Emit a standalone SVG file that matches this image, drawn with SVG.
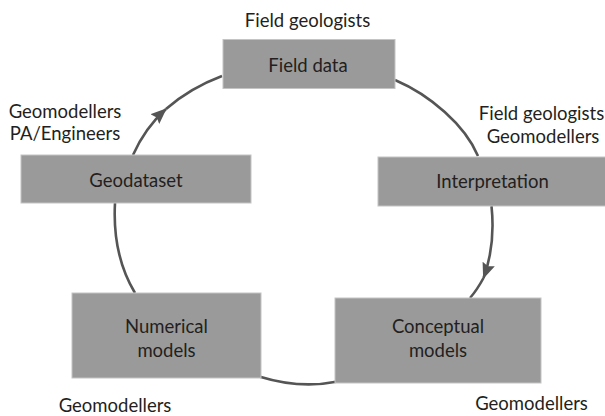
<svg xmlns="http://www.w3.org/2000/svg" width="605" height="416" viewBox="0 0 605 416">
<defs>
<style>
.box{fill:#9a9a9a;stroke:#c4c4c4;stroke-width:1}
.t{font-family:Lato,"Open Sans","Liberation Sans",sans-serif;font-size:18.5px;fill:#231f20;text-anchor:middle}
.c{fill:none;stroke:#555;stroke-width:2.6}
</style>
<marker id="ah" viewBox="0 0 16 13" refX="15" refY="6.5" markerWidth="16" markerHeight="13" markerUnits="userSpaceOnUse" orient="auto">
<path d="M0,0 L16,6.5 L0,13 L2.5,6.5 z" fill="#555"/>
</marker>
</defs>
<rect width="605" height="416" fill="#fff"/>
<g id="connectors">
<path class="c" d="M133,155 Q145,128 166,109" marker-end="url(#ah)"/>
<path class="c" d="M166,109 Q190,88 222,76"/>
<path class="c" d="M395,80 C430,95 465,125 478,156"/>
<path class="c" d="M491.5,206 C494,230 492,255 483.5,278" marker-end="url(#ah)"/>
<path class="c" d="M483.5,278 Q477,290 470,298"/>
<path class="c" d="M336,381.7 Q300,389 260,376.7"/>
<path class="c" d="M135,293 C120,268 113,240 115,203"/>
</g>
<g id="field-data">
<rect class="box" x="223" y="39.5" width="172" height="49"/>
<text class="t" x="308" y="71.5">Field data</text>
</g>
<g id="geodataset">
<rect class="box" x="21" y="155" width="230" height="48"/>
<text class="t" x="136" y="187">Geodataset</text>
</g>
<g id="interpretation">
<rect class="box" x="378" y="157" width="228" height="49"/>
<text class="t" x="492.5" y="188">Interpretation</text>
</g>
<g id="numerical-models">
<rect class="box" x="72" y="293" width="189" height="85"/>
<text class="t" x="166.5" y="333">Numerical</text>
<text class="t" x="166.5" y="356.5">models</text>
</g>
<g id="conceptual-models">
<rect class="box" x="335" y="298" width="206" height="85"/>
<text class="t" x="438" y="333">Conceptual</text>
<text class="t" x="438" y="356.5">models</text>
</g>
<g id="labels">
<text class="t" x="307.5" y="26.5">Field geologists</text>
<text class="t" x="65" y="118">Geomodellers</text>
<text class="t" x="65" y="140">PA/Engineers</text>
<text class="t" x="541.5" y="120">Field geologists</text>
<text class="t" x="543" y="143">Geomodellers</text>
<text class="t" x="115" y="411.5">Geomodellers</text>
<text class="t" x="531.5" y="410">Geomodellers</text>
</g>
</svg>
